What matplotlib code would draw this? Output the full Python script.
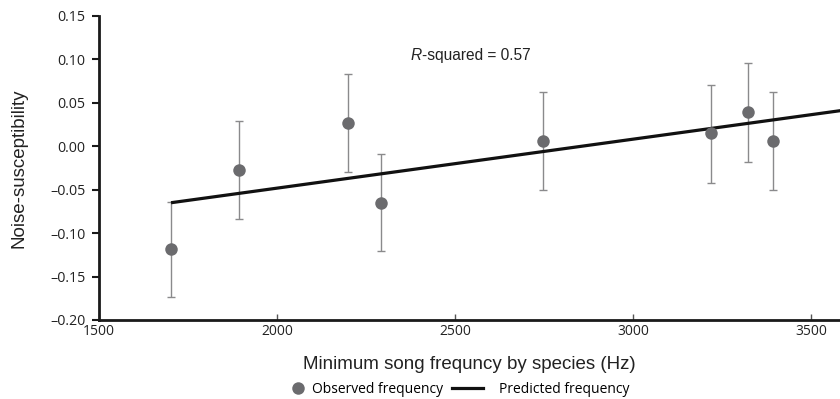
import matplotlib.pyplot as plt
from matplotlib.lines import Line2D

# observed noise-susceptibility by species
song_freq = [1702, 1893, 2200, 2292, 2746, 3218, 3323, 3394]
susceptibility = [-0.118, -0.027, 0.027, -0.065, 0.0065, 0.015, 0.039, 0.0065]
err_low = [0.056, 0.057, 0.057, 0.056, 0.057, 0.057, 0.057, 0.057]
err_high = [0.054, 0.056, 0.056, 0.056, 0.056, 0.056, 0.057, 0.056]

# predicted regression line
pred_x = [1702, 3600]
pred_y = [-0.065, 0.042]

x_ticks = [1500, 2000, 2500, 3000, 3500]
y_ticks = [-0.20, -0.15, -0.10, -0.05, 0.00, 0.05, 0.10, 0.15]
y_labels = ["\u20130.20", "\u20130.15", "\u20130.10", "\u20130.05",
            "0.00", "0.05", "0.10", "0.15"]

fig = plt.figure(figsize=(8.4, 3.99), dpi=100)
ax = fig.add_axes([0.118, 0.198, 0.882, 0.762])

ax.errorbar(song_freq, susceptibility, yerr=[err_low, err_high], fmt="none",
            ecolor="#8a8a8c", elinewidth=1, capsize=3, capthick=1, zorder=2)
ax.plot(pred_x, pred_y, color="#111111", linewidth=2.3, zorder=3,
        solid_capstyle="butt")
ax.plot(song_freq, susceptibility, "o", color="#6b6b6e", markersize=9,
        markeredgewidth=0, zorder=4)

ax.set_xlim(1500, 3581)
ax.set_ylim(-0.20, 0.15)
ax.set_xticks(x_ticks)
ax.set_yticks(y_ticks)
ax.set_yticklabels(y_labels)

for s in ["top", "right"]:
    ax.spines[s].set_visible(False)
for s in ["left", "bottom"]:
    ax.spines[s].set_linewidth(2)
    ax.spines[s].set_color("#1a1a1a")

ax.tick_params(axis="x", direction="in", length=4, width=1, color="#555555",
               labelsize=10, pad=3)
ax.tick_params(axis="y", direction="out", length=5, width=1.5, color="#1a1a1a",
               labelsize=10.3, pad=5)
for lab in ax.get_xticklabels() + ax.get_yticklabels():
    lab.set_fontfamily(["Open Sans", "DejaVu Sans"])
    lab.set_color("#222222")

ax.set_xlabel("Minimum song frequncy by species (Hz)", family="Liberation Sans",
              fontsize=13.5, color="#222222", labelpad=12)
ax.set_ylabel("Noise-susceptibility", family="Liberation Sans", fontsize=13.5,
              color="#222222")
ax.yaxis.set_label_coords(-0.097, 0.5)

t1 = ax.text(2374, 0.104, "R", ha="left", va="center", family="Liberation Sans",
             style="italic", fontsize=11.2, color="#222222")
ax.annotate("-squared = 0.57", xy=(1, 0.5), xycoords=t1, ha="left", va="center",
            family="Liberation Sans", fontsize=11.2, color="#222222")

leg_font = {"family": "Open Sans", "size": 10}
obs_handle = Line2D([], [], marker="o", linestyle="none", color="#6b6b6e",
                    markersize=9, markeredgewidth=0)
pred_handle = Line2D([], [], color="#111111", linewidth=2.3)
leg1 = fig.legend([obs_handle], ["Observed frequency"], loc="center left",
                  bbox_to_anchor=(291 / 840, 0.025), frameon=False, prop=leg_font,
                  handlelength=1.0, handletextpad=0.5, borderpad=0,
                  borderaxespad=0)
leg2 = fig.legend([pred_handle], ["Predicted frequency"], loc="center left",
                  bbox_to_anchor=(452 / 840, 0.025), frameon=False, prop=leg_font,
                  handlelength=2.2, handletextpad=1.15, borderpad=0,
                  borderaxespad=0)

fig.savefig("out.png", dpi=100)
